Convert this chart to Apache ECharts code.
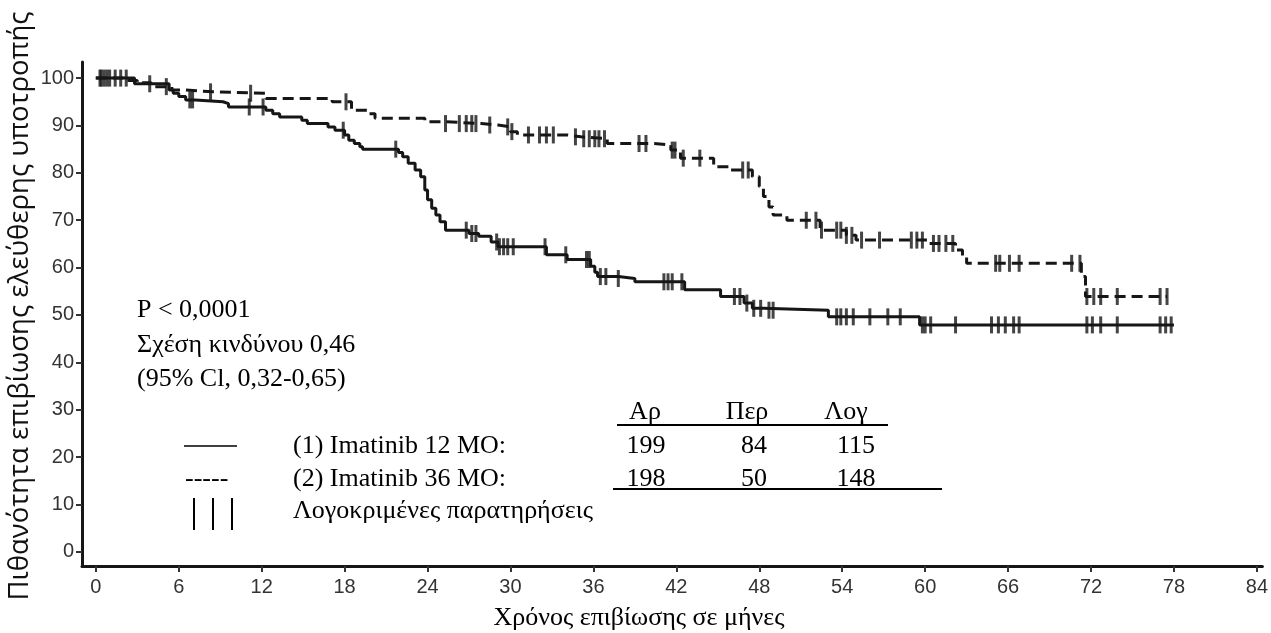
<!DOCTYPE html>
<html>
<head>
<meta charset="utf-8">
<script src="https://cdn.jsdelivr.net/npm/echarts@6/dist/echarts.min.js"></script>
<style>html,body{margin:0;padding:0;background:#fff}#c{width:1271px;height:633px}</style>
</head>
<body>
<div id="c"></div>
<script>
// ---- data ----
const xTicks = [0, 6, 12, 18, 24, 30, 36, 42, 48, 54, 60, 66, 72, 78, 84];
const yTicks = [0, 10, 20, 30, 40, 50, 60, 70, 80, 90, 100];

// Imatinib 12 MO: [month, survival %] (value from that month on)
const steps12 = [[0,100],[2.8,98.8],[5.3,97.5],[5.6,96.8],[6.0,96.1],[6.5,95.4],[7.2,95.0],[9.2,94.6],[9.6,93.9],[12.3,93.2],[12.8,92.5],[13.3,91.8],[14.9,91.1],[15.3,90.4],[16.8,89.7],[17.3,89.0],[18.0,88.0],[18.3,86.9],[18.7,86.2],[19.1,85.5],[19.3,85.0],[21.9,84.3],[22.2,83.4],[22.6,82.0],[23.1,80.6],[23.5,79.2],[23.8,76.4],[24.0,74.3],[24.3,72.5],[24.6,71.1],[24.9,69.7],[25.3,67.9],[27.0,67.2],[27.7,66.6],[28.6,65.4],[29.1,64.4],[32.6,62.7],[34.1,61.7],[35.8,60.3],[36.1,59.0],[36.3,58.1],[37.8,57.7],[39.0,57.0],[42.6,55.3],[45.2,53.9],[46.9,52.5],[47.5,51.4],[48.3,51.0],[53.0,49.6],[59.6,47.9],[78.0,47.9]];
// Imatinib 36 MO
const steps36 = [[0,100],[2.0,99.5],[3.0,99.0],[4.0,98.2],[5.5,97.5],[6.5,97.1],[8.5,96.8],[12.3,95.7],[17.1,95.0],[18.5,93.2],[19.7,92.5],[20.2,91.5],[23.8,90.8],[25.3,90.4],[27.9,90.1],[29.1,89.7],[30.0,88.7],[30.5,88.0],[34.1,87.6],[35.1,87.2],[37.0,86.2],[40.4,85.9],[41.6,84.8],[42.3,83.1],[44.7,81.3],[45.9,80.6],[47.5,79.2],[48.0,77.1],[48.3,75.0],[48.7,72.8],[49.0,71.1],[50.0,70.0],[52.4,67.9],[54.3,66.8],[55.0,65.8],[60.2,65.1],[62.2,63.7],[62.7,62.3],[63.0,60.9],[71.3,58.1],[71.6,53.9],[77.5,53.9]];

// censored observation times (months)
const censor12 = [0.3,0.6,1.0,1.4,2.2,3.9,6.8,7.0,11.1,12.1,17.9,21.7,26.8,27.2,27.5,29.0,29.2,29.5,29.8,30.2,32.5,34.0,35.5,35.7,36.5,36.9,37.8,41.1,41.4,41.7,42.4,46.2,46.6,47.1,47.6,48.1,48.7,49.0,53.6,53.9,54.3,54.8,56.0,57.3,58.2,59.8,60.0,60.4,62.2,64.8,65.3,65.8,66.4,66.8,71.7,72.1,72.7,73.9,77.0,77.4,77.8];
const censor36 = [0.4,0.8,1.8,5.1,8.3,11.2,18.1,25.3,26.3,26.8,27.2,27.5,28.5,29.8,30.1,31.3,32.1,32.6,33.1,34.7,35.3,35.7,36.1,36.4,36.8,39.3,39.8,41.7,41.9,42.5,43.7,46.8,47.2,51.4,52.1,52.5,53.6,53.9,54.3,54.7,55.4,56.7,59.0,59.4,59.8,60.6,61.0,61.5,62.0,65.1,65.4,66.1,66.8,70.6,71.2,71.7,72.2,72.7,73.9,77.0,77.5];

const statLines = ['P < 0,0001', 'Σχέση κινδύνου 0,46', '(95% Cl, 0,32-0,65)'];
const tableHeaders = ['Αρ', 'Περ', 'Λογ'];
const groupNames = ['(1) Imatinib 12 MO:', '(2) Imatinib 36 MO:'];
const row12 = [199, 84, 115];
const row36 = [198, 50, 148];
const censorLabel = 'Λογοκριμένες παρατηρήσεις';
const xTitle = 'Χρόνος επιβίωσης σε μήνες';
const yTitle = 'Πιθανότητα επιβίωσης ελεύθερης υποτροπής';

// ---- helpers ----
function valueAt(steps, t) {
  let v = steps[0][1];
  for (const s of steps) { if (s[0] <= t) v = s[1]; else break; }
  return v;
}
const ink = '#161616';
const serif = '"Liberation Serif", "DejaVu Serif", serif';
const F = '26px ' + serif;

const chart = echarts.init(document.getElementById('c'));

const g = [];
const statY = [310, 345, 379];
statLines.forEach((t, i) => {
  g.push({type:'text', x:137, y:statY[i], style:{text:t, font:F, fill:'#000', textAlign:'left', textVerticalAlign:'middle'}});
});
const headX = [645, 747, 846];
const colX = [646, 754, 856];
const rowY = [446, 479, 511];
tableHeaders.forEach((t, i) => {
  g.push({type:'text', x:headX[i], y:412, style:{text:t, font:F, fill:'#000', textAlign:'center', textVerticalAlign:'middle'}});
});
g.push({type:'line', shape:{x1:617, y1:425, x2:888, y2:425}, style:{stroke:'#000', lineWidth:2}});
[row12, row36].forEach((row, r) => {
  row.forEach((v, i) => {
    g.push({type:'text', x:colX[i], y:rowY[r], style:{text:String(v), font:F, fill:'#000', textAlign:'center', textVerticalAlign:'middle'}});
  });
  g.push({type:'text', x:293, y:rowY[r], style:{text:groupNames[r], font:F, fill:'#000', textAlign:'left', textVerticalAlign:'middle'}});
});
g.push({type:'line', shape:{x1:613, y1:489, x2:942, y2:489}, style:{stroke:'#000', lineWidth:2}});
g.push({type:'line', shape:{x1:184, y1:446, x2:237, y2:446}, style:{stroke:'#000', lineWidth:1.5}});
g.push({type:'text', x:185, y:rowY[1], style:{text:'-----', font:F, fill:'#000', textAlign:'left', textVerticalAlign:'middle'}});
[194, 213, 232].forEach(x => {
  g.push({type:'line', shape:{x1:x, y1:498, x2:x, y2:530}, style:{stroke:'#000', lineWidth:2}});
});
g.push({type:'text', x:293, y:rowY[2], style:{text:censorLabel, font:F, fill:'#000', textAlign:'left', textVerticalAlign:'middle'}});
g.push({type:'text', x:639, y:618, style:{text:xTitle, font:F, fill:'#000', textAlign:'center', textVerticalAlign:'middle'}});
g.push({type:'text', x:20, y:306, rotation:Math.PI/2, style:{text:yTitle, font:'27.5px "Open Sans", "Noto Sans", sans-serif', fill:'#111', textAlign:'center', textVerticalAlign:'middle'}});

const tickFont = '"Liberation Sans", Arial, sans-serif';
const option = {
  animation: false,
  backgroundColor: '#fff',
  grid: {left: 82, right: 3, top: 62, bottom: 67, containLabel: false},
  xAxis: {
    type: 'value', min: -1, max: 84.4,
    axisLine: {show: true, onZero: false, lineStyle: {color: ink, width: 3}},
    axisTick: {show: true, customValues: xTicks, length: 6, lineStyle: {color: '#333', width: 2}},
    axisLabel: {customValues: xTicks, fontSize: 20, color: '#333', fontFamily: tickFont, margin: 11},
    splitLine: {show: false}
  },
  yAxis: {
    type: 'value', min: -3, max: 103.4,
    axisLine: {show: true, onZero: false, lineStyle: {color: ink, width: 3}},
    axisTick: {show: true, customValues: yTicks, length: 6, lineStyle: {color: '#333', width: 2}},
    axisLabel: {customValues: yTicks, fontSize: 20, color: '#333', fontFamily: tickFont, margin: 8},
    splitLine: {show: false}
  },
  series: [
    {type: 'line', step: 'end', data: steps12, symbol: 'none', lineStyle: {color: ink, width: 3}, z: 3},
    {type: 'line', step: 'end', data: steps36, symbol: 'none', lineStyle: {color: ink, width: 3, type: [11, 6]}, z: 3},
    {type: 'scatter', data: censor12.map(t => [t, valueAt(steps12, t)]), symbol: 'rect', symbolSize: [3, 17], itemStyle: {color: ink}, z: 4},
    {type: 'scatter', data: censor36.map(t => [t, valueAt(steps36, t)]), symbol: 'rect', symbolSize: [3, 17], itemStyle: {color: ink}, z: 4}
  ],
  graphic: g
};
chart.setOption(option);
</script>
</body>
</html>
